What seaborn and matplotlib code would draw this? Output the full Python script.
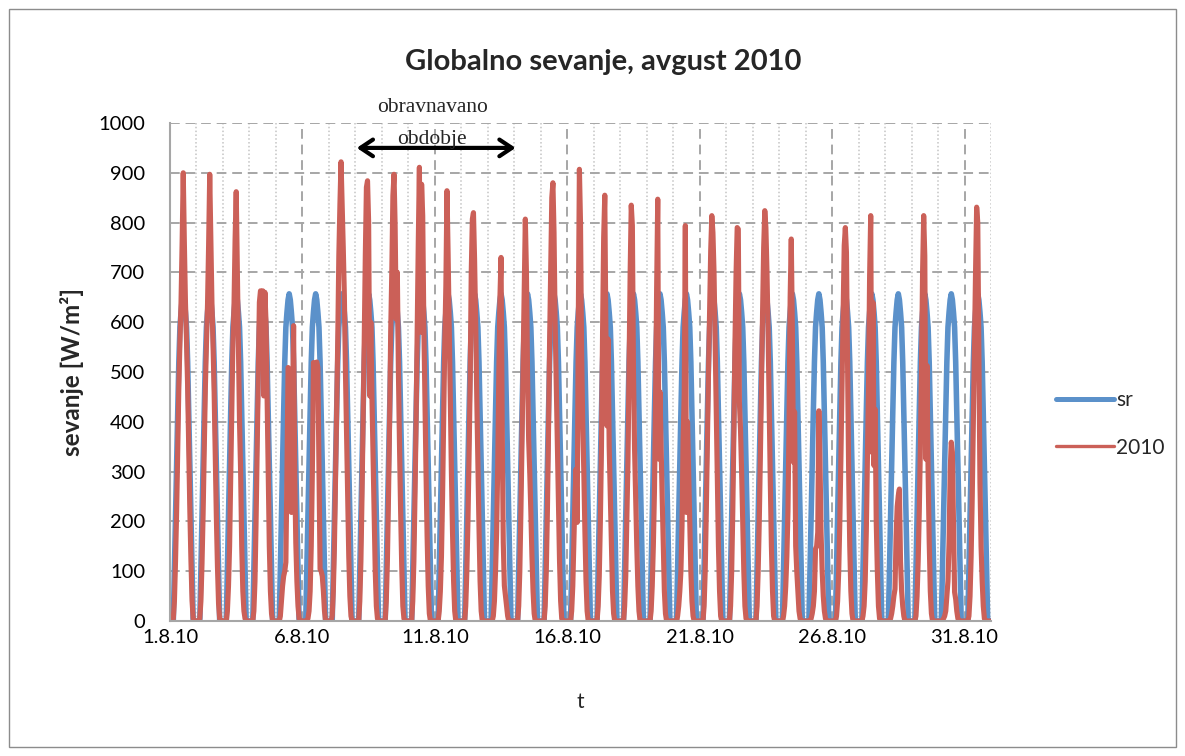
import numpy as np
import pandas as pd
import seaborn as sns
import matplotlib.pyplot as plt
from matplotlib.patches import Rectangle
from matplotlib.lines import Line2D
from matplotlib.ticker import MultipleLocator, FixedLocator

# Hourly global radiation [W/m2], August 2010.
# Each daily list covers the hours 03:00 .. 21:00; the other hours are zero.
first_hour = 3

# Mean (long-term) daily profile, the same for every day of the month
sr_day = [0, 100, 210, 320, 420, 520, 590, 620, 645, 657, 645, 620, 590, 520, 420, 320, 210, 100, 0]

# Measured values, August 2010
y2010_days = [
    [5, 40, 120, 220, 340, 470, 560, 640, 760, 900, 760, 640, 560, 470, 340, 220, 120, 40, 5],   # 1.8.
    [5, 40, 115, 215, 335, 465, 555, 635, 755, 897, 765, 640, 555, 460, 330, 210, 110, 35, 5],   # 2.8.
    [0, 20, 70, 150, 285, 420, 560, 633, 767, 862, 713, 573, 400, 300, 150, 60, 20, 5, 0],       # 3.8.
    [0, 20, 80, 200, 350, 500, 640, 663, 660, 663, 452, 660, 600, 450, 300, 150, 60, 15, 0],     # 4.8.
    [0, 10, 40, 70, 90, 100, 118, 300, 509, 505, 350, 218, 400, 593, 300, 158, 80, 30, 5],       # 5.8.
    [0, 0, 5, 20, 60, 150, 300, 519, 510, 515, 520, 509, 300, 104, 100, 90, 60, 20, 0],          # 6.8.
    [10, 60, 150, 280, 420, 560, 733, 837, 922, 840, 750, 653, 500, 380, 250, 130, 50, 10, 0],   # 7.8.
    [0, 40, 120, 250, 400, 560, 733, 871, 884, 800, 452, 600, 450, 330, 200, 100, 30, 5, 0],     # 8.8.
    [0, 40, 120, 250, 400, 580, 700, 854, 897, 794, 606, 700, 500, 350, 220, 110, 30, 5, 0],     # 9.8.
    [0, 40, 120, 250, 400, 580, 760, 911, 580, 877, 814, 600, 450, 300, 170, 70, 15, 0, 0],      # 10.8.
    [0, 20, 60, 130, 250, 400, 560, 673, 864, 740, 600, 450, 300, 180, 80, 20, 0, 0, 0],         # 11.8.
    [0, 30, 100, 200, 330, 480, 700, 807, 820, 727, 600, 450, 320, 190, 80, 20, 0, 0, 0],        # 12.8.
    [0, 0, 10, 40, 100, 180, 312, 500, 650, 730, 400, 158, 71, 50, 30, 10, 0, 0, 0],             # 13.8.
    [0, 30, 100, 220, 360, 520, 660, 807, 700, 500, 365, 300, 220, 130, 60, 15, 0, 0, 0],        # 14.8.
    [0, 30, 100, 220, 380, 560, 707, 850, 880, 780, 600, 480, 360, 230, 120, 40, 5, 0, 0],       # 15.8.
    [0, 20, 70, 160, 250, 305, 198, 600, 907, 800, 540, 400, 300, 180, 80, 20, 0, 0, 0],         # 16.8.
    [0, 30, 90, 200, 350, 580, 770, 855, 580, 392, 566, 350, 250, 150, 60, 15, 0, 0, 0],         # 17.8.
    [0, 30, 90, 200, 320, 519, 700, 835, 794, 500, 345, 250, 150, 70, 20, 0, 0, 0, 0],           # 18.8.
    [0, 20, 70, 150, 260, 440, 667, 847, 325, 460, 350, 250, 150, 60, 15, 0, 0, 0, 0],           # 19.8.
    [0, 10, 30, 60, 100, 191, 365, 456, 794, 218, 400, 300, 200, 100, 40, 10, 0, 0, 0],          # 20.8.
    [0, 30, 100, 220, 360, 500, 620, 744, 814, 780, 700, 560, 420, 280, 150, 60, 10, 0, 0],      # 21.8.
    [0, 30, 100, 220, 380, 560, 700, 790, 787, 439, 385, 300, 200, 100, 30, 5, 0, 0, 0],         # 22.8.
    [0, 30, 100, 200, 330, 480, 620, 750, 824, 790, 700, 580, 430, 280, 150, 60, 10, 0, 0],      # 23.8.
    [0, 10, 30, 70, 130, 220, 400, 650, 767, 580, 319, 420, 151, 100, 60, 20, 5, 0, 0],          # 24.8.
    [0, 0, 5, 15, 30, 60, 145, 150, 178, 422, 325, 178, 100, 50, 20, 5, 0, 0, 0],                # 25.8.
    [0, 10, 40, 100, 200, 330, 480, 620, 754, 790, 740, 520, 300, 150, 60, 15, 0, 0, 0],         # 26.8.
    [0, 10, 30, 80, 180, 320, 470, 693, 814, 339, 640, 312, 425, 200, 100, 30, 5, 0, 0],         # 27.8.
    [0, 0, 5, 15, 30, 50, 64, 171, 230, 252, 265, 120, 60, 30, 10, 0, 0, 0, 0],                  # 28.8.
    [0, 10, 50, 120, 220, 350, 500, 700, 814, 733, 325, 513, 300, 160, 60, 15, 0, 0, 0],         # 29.8.
    [0, 0, 5, 10, 20, 50, 80, 158, 300, 359, 339, 200, 58, 44, 20, 5, 0, 0, 0],                  # 30.8.
    [0, 10, 50, 130, 250, 400, 550, 700, 831, 800, 526, 278, 150, 80, 30, 5, 0, 0, 0],           # 31.8.
]

x_tick_labels = ["1.8.10", "6.8.10", "11.8.10", "16.8.10", "21.8.10", "26.8.10", "31.8.10"]
series_names = ["sr", "2010"]

# ---- build hourly series -------------------------------------------------
def full_day(values):
    day = np.zeros(24)
    day[first_hour:first_hour + len(values)] = values
    return day

n_days = len(y2010_days)
t_days = np.arange(n_days * 24) / 24.0
sr_hourly = np.concatenate([full_day(sr_day) for _ in range(n_days)])
y2010_hourly = np.concatenate([full_day(d) for d in y2010_days])

df = pd.DataFrame({"t": t_days, series_names[0]: sr_hourly, series_names[1]: y2010_hourly})

# ---- style ---------------------------------------------------------------
sns.set_theme(style="white")
plt.rcParams["font.family"] = ["Lato", "DejaVu Sans"]

blue = "#5B91CA"
red = "#CB6058"
grid_c = "#A6A6A6"

fig = plt.figure(figsize=(11.85, 7.56), dpi=100)
ax = fig.add_axes([170 / 1185, 1 - 621 / 756, (991 - 170) / 1185, (621 - 123) / 756])

sns.lineplot(data=df, x="t", y=series_names[0], ax=ax, color=blue, lw=4.0,
             solid_joinstyle="round", solid_capstyle="round", zorder=3)
sns.lineplot(data=df, x="t", y=series_names[1], ax=ax, color=red, lw=3.7,
             solid_joinstyle="round", solid_capstyle="round", zorder=4)

ax.set_xlim(0, n_days)
ax.set_ylim(0, 1000)
ax.xaxis.set_major_locator(FixedLocator(np.arange(0, n_days, 5)))
ax.set_xticklabels(x_tick_labels)
ax.xaxis.set_minor_locator(MultipleLocator(1))
ax.yaxis.set_major_locator(MultipleLocator(100))

ax.grid(which="major", axis="both", color=grid_c, linestyle=(0, (5, 3)), lw=1.4, zorder=0)
ax.grid(which="minor", axis="x", color="#C4C4C4", linestyle=(0, (1, 1.5)), lw=1.1, zorder=0)

for side in ("top", "right"):
    ax.spines[side].set_visible(False)
for side in ("left", "bottom"):
    ax.spines[side].set_color(grid_c)
    ax.spines[side].set_linewidth(1.5)
    ax.spines[side].set_zorder(5)

ax.tick_params(axis="both", which="major", labelsize=14.5, colors="black",
               length=5, width=1.2, direction="out")
ax.tick_params(axis="both", which="major", color=grid_c)
ax.tick_params(axis="y", which="major", pad=13)
ax.tick_params(axis="x", which="major", length=3, pad=3)
ax.tick_params(axis="x", which="minor", length=0)

ax.set_xlabel("t", fontsize=15, labelpad=33)
ax.set_ylabel("sevanje [W/m²]", fontsize=17.5, fontweight="bold", labelpad=10)

fig.text(603 / 1185, 1 - 62 / 756, "Globalno sevanje, avgust 2010",
         ha="center", va="center", fontsize=21, fontweight="bold")

# period marker
serif = ["Liberation Serif", "DejaVu Serif"]
ax.annotate("", xy=(13.05, 950), xytext=(7.05, 950),
            arrowprops=dict(arrowstyle="<->,head_length=0.75,head_width=0.5",
                            lw=3.0, color="black", shrinkA=0, shrinkB=0),
            annotation_clip=False, zorder=6)
ax.text(9.9, 1032, "obravnavano", ha="center", va="center", fontsize=15.5,
        family=serif, clip_on=False, zorder=6)
ax.text(9.9, 966, "obdobje", ha="center", va="center", fontsize=15.5,
        family=serif, clip_on=False, zorder=6)

# legend
handles = [Line2D([], [], color=blue, lw=3.6, solid_capstyle="round"),
           Line2D([], [], color=red, lw=2.4, solid_capstyle="round")]
fig.legend(handles, series_names, loc="center left",
           bbox_to_anchor=(1046 / 1185, 1 - 424 / 756), frameon=False,
           fontsize=15, handlelength=2.75, handletextpad=0.1, labelspacing=1.3,
           borderpad=0)

# chart area border
fig.add_artist(Rectangle((9 / 1185, 9 / 756), 1167 / 1185, 738 / 756,
                         transform=fig.transFigure, fill=False,
                         edgecolor="#8C8C8C", lw=1.0))

fig.savefig("out.png", dpi=100)
